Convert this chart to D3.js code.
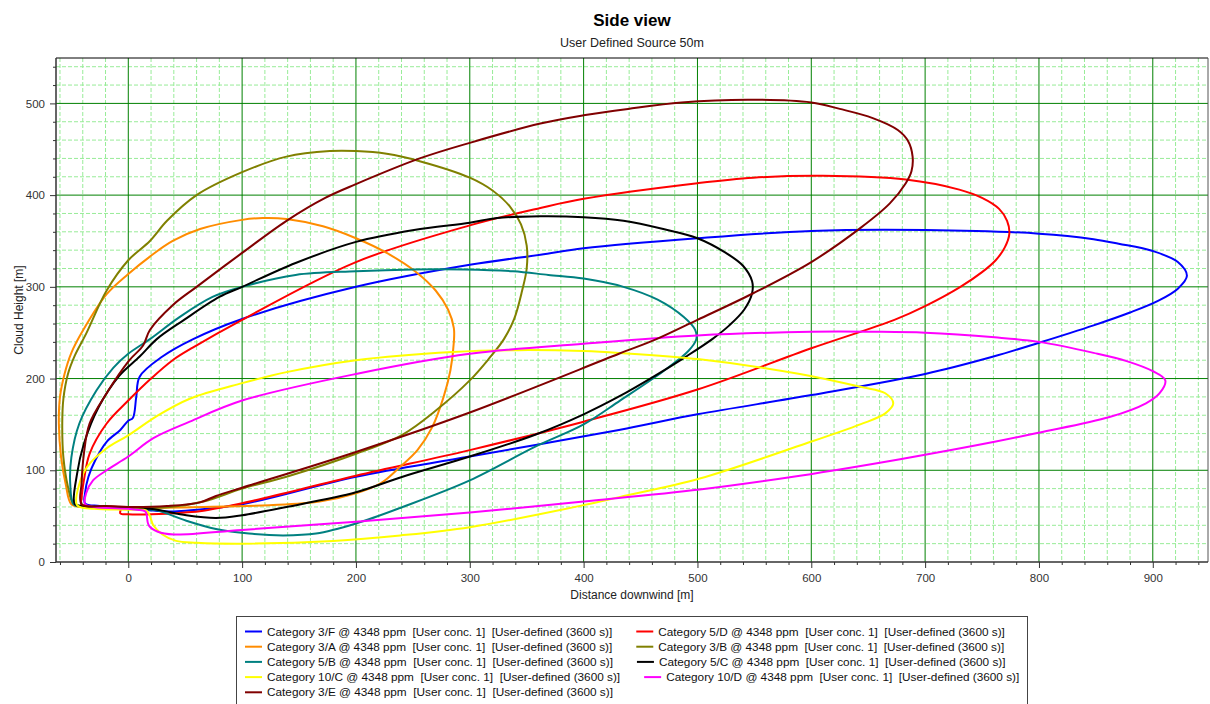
<!DOCTYPE html>
<html><head><meta charset="utf-8">
<script src="https://cdn.jsdelivr.net/npm/d3@7"></script>
<style>
body{margin:0;background:#fff}
text{font-family:"Liberation Sans",Arial,sans-serif}
</style>
</head><body>
<svg id="chart" width="1210" height="704"></svg>
<script>
// ---------- data ----------
const chartTitle = "Side view";
const chartSubtitle = "User Defined Source 50m";
const xLabel = "Distance downwind [m]";
const yLabel = "Cloud Height [m]";
const xTicks = [0,100,200,300,400,500,600,700,800,900];
const yTicks = [0,100,200,300,400,500];
const xDomain = [-63.5, 948.5];
const yDomain = [0, 549.5];

const seriesNames = [
  "Category 3/F @ 4348 ppm  [User conc. 1]  [User-defined (3600 s)]",
  "Category 5/D @ 4348 ppm  [User conc. 1]  [User-defined (3600 s)]",
  "Category 3/A @ 4348 ppm  [User conc. 1]  [User-defined (3600 s)]",
  "Category 3/B @ 4348 ppm  [User conc. 1]  [User-defined (3600 s)]",
  "Category 5/B @ 4348 ppm  [User conc. 1]  [User-defined (3600 s)]",
  "Category 5/C @ 4348 ppm  [User conc. 1]  [User-defined (3600 s)]",
  "Category 10/C @ 4348 ppm  [User conc. 1]  [User-defined (3600 s)]",
  "Category 10/D @ 4348 ppm  [User conc. 1]  [User-defined (3600 s)]",
  "Category 3/E @ 4348 ppm  [User conc. 1]  [User-defined (3600 s)]"
];
const seriesColors = ["#0000ff","#ff0000","#ff8c00","#808000","#008080","#000000","#ffff00","#ff00ff","#800000"];

const cat3F = [[-38,64],[-25,61],[0,58],[40,55],[60,57],[100,63],[200,93],[300,115],[431,144],[500,161],[600,182],[700,205],[760,224],[800,239],[848,258],[880,272],[905,285],[922,298],[930,312],[922,327],[900,339],[870,347],[848,352],[800,358],[700,362],[600,361],[500,353],[400,342],[362,335],[300,324],[200,300],[100,265],[57,243],[30,224],[10,202],[7,180],[4,157],[0,154],[-7,144],[-19,131],[-29,111],[-35,93],[-38,75]];
const cat5D = [[-41,62],[-30,60],[-7,59],[-7,53],[0,52],[20,52],[50,54],[66,56],[100,64],[200,94],[300,122],[400,153],[500,188],[600,233],[673,264],[700,279],[731,300],[750,316],[762,329],[770,343],[774,358],[772,372],[765,385],[750,397],[730,406],[683,417],[610,421],[549,419],[500,413],[400,396],[362,386],[300,367],[200,327],[100,264],[57,234],[39,220],[20,200],[0,176],[-19,151],[-34,118],[-39,89],[-41,70]];
const cat3A = [[-50,63],[-55,85],[-59,114],[-61,151],[-60,180],[-56,205],[-50,228],[-40,252],[-19,292],[0,314],[19,333],[39,350],[63,363],[100,373],[118,375],[139,374],[171,366],[200,353],[227,337],[253,316],[270,296],[281,275],[286,255],[286,240],[283,209],[277,180],[267,147],[254,122],[239,104],[222,86],[200,75],[168,66],[124,62],[66,60],[0,59],[-40,60]];
const cat3B = [[-48,63],[-53,82],[-57,114],[-58,151],[-57,178],[-53,205],[-47,225],[-37,249],[-19,296],[0,329],[19,350],[34,372],[60,400],[100,425],[139,442],[177,448],[200,448],[227,445],[256,437],[300,419],[320,405],[335,388],[345,368],[350,345],[350,320],[346,296],[339,265],[330,243],[317,222],[300,198],[271,166],[241,139],[200,118],[139,93],[100,80],[66,66],[37,60],[0,59],[-40,60]];
const cat5B = [[-48,63],[-51,85],[-50,114],[-43,151],[-28,187],[-13,212],[0,227],[19,243],[45,267],[74,289],[100,300],[147,313],[200,317],[251,319],[295,319],[338,317],[369,313],[400,309],[435,300],[465,286],[488,267],[498,253],[499,243],[492,230],[470,208],[432,176],[400,150],[358,126],[300,89],[241,60],[200,42],[165,31],[136,29],[106,31],[77,36],[51,45],[26,56],[12,58],[0,59],[-40,61]];
const cat5C = [[-47,63],[-40,61],[0,59],[19,58],[30,56],[51,51],[77,48],[100,51],[139,60],[200,76],[241,93],[300,115],[358,139],[400,161],[432,181],[460,201],[490,224],[513,243],[528,258],[541,275],[548,293],[548,306],[540,323],[525,337],[500,353],[470,363],[435,372],[400,376],[362,377],[324,375],[300,370],[251,362],[200,349],[147,326],[100,300],[80,289],[49,264],[25,243],[10,224],[-8,203],[-26,169],[-39,129],[-45,96]];
const cat10C = [[-45,62],[-30,58],[0,57],[16,56],[19,50],[22,40],[30,30],[42,23],[60,21],[100,20],[180,23],[239,29],[300,38],[400,62],[432,71],[502,91],[590,127],[643,150],[665,162],[672,173],[665,184],[643,191],[590,205],[502,221],[431,228],[400,230],[343,231],[285,229],[200,220],[139,207],[100,195],[54,178],[25,159],[0,138],[-19,124],[-36,104],[-43,85]];
const cat10D = [[-38,63],[-30,60],[0,58],[8,57],[15,55],[18,40],[26,33],[40,30],[100,35],[200,44],[300,54],[400,66],[502,79],[590,94],[678,112],[761,131],[800,141],[862,158],[894,173],[906,184],[911,198],[900,208],[877,219],[848,228],[800,240],[761,245],[700,250],[654,251],[600,251],[500,247],[400,238],[300,227],[200,205],[100,176],[54,153],[22,135],[0,115],[-19,100],[-31,89],[-37,75]];
const cat3E = [[-41,63],[-20,61],[0,60],[34,61],[63,65],[77,72],[100,81],[200,120],[300,163],[431,227],[464,243],[500,264],[549,293],[600,327],[643,364],[669,391],[683,413],[688,426],[689,442],[685,459],[676,471],[654,484],[625,494],[600,501],[545,504],[486,501],[439,494],[400,487],[362,478],[300,457],[256,440],[200,412],[173,397],[139,372],[100,337],[60,300],[39,280],[19,253],[13,236],[1,220],[-19,184],[-34,151],[-39,118],[-41,86]];

const seriesData = [cat3F, cat5D, cat3A, cat3B, cat5B, cat5C, cat10C, cat10D, cat3E];

// ---------- layout ----------
const svg = d3.select("#chart");
const W = 1210, H = 704;
const plot = {left:56, right:1208, top:58, bottom:562};
const x = d3.scaleLinear().domain(xDomain).range([plot.left, plot.right]);
const y = d3.scaleLinear().domain(yDomain).range([plot.bottom, plot.top]);

svg.append("rect").attr("width",W).attr("height",H).attr("fill","#fff");

// grid
const minorX = d3.range(-60, 949, 20).filter(v => v % 100 !== 0);
const minorY = d3.range(20, 549, 20).filter(v => v % 100 !== 0);
const majorX = xTicks;
const majorY = yTicks.filter(v => v > 0);
const grid = svg.append("g");
grid.selectAll(".mx").data(minorX).join("line")
  .attr("x1", d=>x(d)).attr("x2", d=>x(d)).attr("y1", plot.top).attr("y2", plot.bottom)
  .attr("stroke","#98ec98").attr("stroke-width",1).attr("stroke-dasharray","4,2");
grid.selectAll(".my").data(minorY).join("line")
  .attr("y1", d=>y(d)).attr("y2", d=>y(d)).attr("x1", plot.left).attr("x2", plot.right)
  .attr("stroke","#98ec98").attr("stroke-width",1).attr("stroke-dasharray","4,2");
grid.selectAll(".Mx").data(majorX).join("line")
  .attr("x1", d=>x(d)).attr("x2", d=>x(d)).attr("y1", plot.top).attr("y2", plot.bottom)
  .attr("stroke","#008000").attr("stroke-width",1);
grid.selectAll(".My").data(majorY).join("line")
  .attr("y1", d=>y(d)).attr("y2", d=>y(d)).attr("x1", plot.left).attr("x2", plot.right)
  .attr("stroke","#008000").attr("stroke-width",1);

// frame
svg.append("line").attr("x1",plot.left).attr("x2",plot.right).attr("y1",plot.top).attr("y2",plot.top).attr("stroke","#000");
svg.append("line").attr("x1",plot.right).attr("x2",plot.right).attr("y1",plot.top).attr("y2",plot.bottom).attr("stroke","#555");

// clip
svg.append("clipPath").attr("id","clip").append("rect")
  .attr("x",plot.left).attr("y",plot.top).attr("width",plot.right-plot.left).attr("height",plot.bottom-plot.top);

// series
const line = d3.line().x(d=>x(d[0])).y(d=>y(d[1])).curve(d3.curveCatmullRomClosed.alpha(0.5));
const sg = svg.append("g").attr("clip-path","url(#clip)");
seriesData.forEach((pts,i)=>{
  sg.append("path").attr("d", line(pts)).attr("fill","none")
    .attr("stroke", seriesColors[i]).attr("stroke-width",2).attr("stroke-linejoin","round");
});

// axes
const axisColor = "#333";
const xAxis = d3.axisBottom(x).tickValues(xTicks).tickSize(6).tickPadding(6).tickFormat(d3.format("d"));
const gx = svg.append("g").attr("transform",`translate(0,${plot.bottom})`).call(xAxis);
const xMinor = d3.axisBottom(x).tickValues(d3.range(-60,949,20).filter(v=>v%100!==0)).tickSize(3).tickFormat("");
const gxm = svg.append("g").attr("transform",`translate(0,${plot.bottom})`).call(xMinor);
const yAxis = d3.axisLeft(y).tickValues(yTicks).tickSize(6).tickPadding(5).tickFormat(d3.format("d"));
const gy = svg.append("g").attr("transform",`translate(${plot.left},0)`).call(yAxis);
const yMinor = d3.axisLeft(y).tickValues(d3.range(20,549,20).filter(v=>v%100!==0)).tickSize(3).tickFormat("");
const gym = svg.append("g").attr("transform",`translate(${plot.left},0)`).call(yMinor);
[gx,gxm,gy,gym].forEach(g=>{
  g.selectAll("path.domain").attr("stroke",axisColor).attr("stroke-width",1.5);
  g.selectAll(".tick line").attr("stroke",axisColor);
  g.selectAll("text").attr("fill","#333").attr("font-size",11.5).attr("font-family",'"Liberation Sans",Arial,sans-serif');
});
gy.select("path.domain").attr("d",`M0,${plot.top}V${plot.bottom}`);
gx.select("path.domain").attr("d",`M${plot.left},0H${plot.right}`);
gxm.select("path.domain").remove();
gym.select("path.domain").remove();

// titles
svg.append("text").attr("x",632).attr("y",26).attr("text-anchor","middle")
  .attr("font-size",17).attr("font-weight","bold").attr("fill","#000").text(chartTitle);
svg.append("text").attr("x",632).attr("y",47).attr("text-anchor","middle")
  .attr("font-size",12.5).attr("fill","#222").text(chartSubtitle);
svg.append("text").attr("x",632).attr("y",599).attr("text-anchor","middle")
  .attr("font-size",12).attr("fill","#222").text(xLabel);
svg.append("text").attr("transform",`translate(23,${(plot.top+plot.bottom)/2}) rotate(-90)`).attr("text-anchor","middle")
  .attr("font-size",12).attr("fill","#222").text(yLabel);

// legend
const lg = svg.append("g");
lg.append("rect").attr("x",236.5).attr("y",616.5).attr("width",791).attr("height",100)
  .attr("fill","#fff").attr("stroke","#444");
const probe = lg.append("text").attr("font-size",12).style("white-space","pre").text(seriesNames[0]);
const fs = 12 * 345.6 / probe.node().getComputedTextLength();
probe.remove();
const rowY = i => 631.5 + 15.2*i;
const leftLineX = 245, lineLen = 17, textGap = 5;
const rows = [[0,1],[2,3],[4,5],[6,7],[8]];
rows.forEach((r,ri)=>{
  let cx = leftLineX;
  r.forEach((si,k)=>{
    lg.append("line").attr("x1",cx).attr("x2",cx+lineLen).attr("y1",rowY(ri)).attr("y2",rowY(ri))
      .attr("stroke",seriesColors[si]).attr("stroke-width",2);
    const t = lg.append("text").attr("x",cx+lineLen+textGap).attr("y",rowY(ri)).attr("dy","0.35em")
      .attr("font-size",fs).attr("fill","#111").style("white-space","pre").text(seriesNames[si]);
    cx = cx + lineLen + textGap + t.node().getComputedTextLength() + 24;
  });
});
</script>
</body></html>
